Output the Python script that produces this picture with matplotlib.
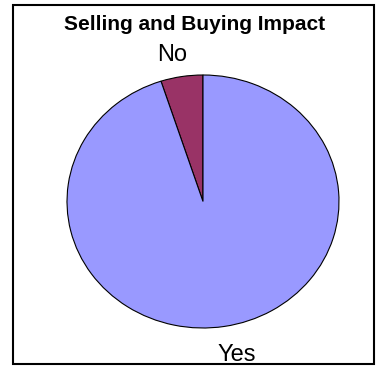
import matplotlib
matplotlib.use("Agg")
import matplotlib.pyplot as plt
from matplotlib.patches import Rectangle

plt.rcParams['font.family'] = ['Liberation Sans', 'DejaVu Sans']

labels = ["No", "Yes"]
shares = [5, 95]
colors = ["#993366", "#9999FF"]

fig = plt.figure(figsize=(3.82, 3.67), dpi=100)
fig.patch.set_facecolor("white")

# pie stretched slightly wider than tall
ax = fig.add_axes([67 / 382, 39 / 367, 272 / 382, 253 / 367])
wedges, texts = ax.pie(shares, labels=labels, colors=colors, startangle=90,
                       counterclock=True, labeldistance=1.19,
                       wedgeprops=dict(edgecolor="black", linewidth=0.8),
                       textprops=dict(fontsize=17, ha="center", va="center"))
ax.set_aspect("auto")
ax.set_xlim(-1, 1)
ax.set_ylim(-1, 1)

# nudge the category labels to their usual spots
texts[0].set_position((-0.23, 1.16))
texts[1].set_position((0.25, -1.21))

fig.text(195 / 382, 1 - 25 / 367, "Selling and Buying Impact",
         ha="center", va="center", fontsize=15, fontweight="bold")

# outer frame around the chart area
fig.patches.append(Rectangle((13 / 382, 3 / 367), 361 / 382, 359 / 367,
                             transform=fig.transFigure, fill=False,
                             edgecolor="black", linewidth=1.5))

fig.savefig("out.png", dpi=100)
plt.close(fig)
